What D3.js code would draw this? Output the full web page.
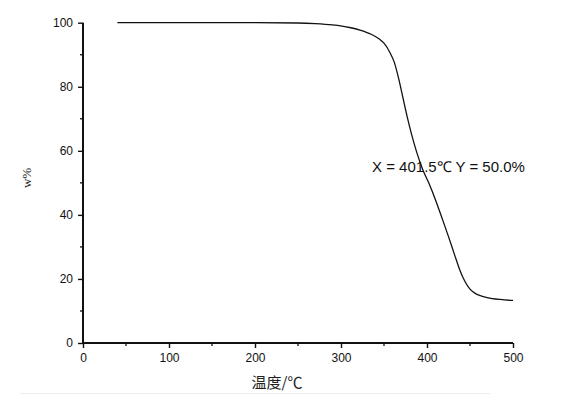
<!DOCTYPE html>
<html><head><meta charset="utf-8">
<script src="https://cdn.jsdelivr.net/npm/d3@7/dist/d3.min.js"></script>
<style>body{margin:0;background:#fff;}svg{display:block;}</style>
</head><body>
<script>
const temps = [40, 100, 200, 250, 270, 290, 310, 322, 335, 345, 350, 357, 362, 367, 372, 377, 382, 388, 395, 402, 410, 418, 425, 432, 438, 444, 450, 456, 462, 470, 485, 500];
const weights = [100, 100, 100, 99.9, 99.7, 99.3, 98.5, 97.7, 96.4, 94.8, 93.6, 90.6, 87.6, 82.6, 76.6, 70.6, 65.2, 59.6, 54.2, 50, 44.6, 38.6, 33.2, 27.6, 22.9, 19.3, 16.8, 15.5, 14.8, 14.2, 13.6, 13.3];
const xTicks = [0, 100, 200, 300, 400, 500];
const yTicks = [0, 20, 40, 60, 80, 100];
const xLabel = "温度/℃";
const yLabel = "w%";
const note = "X = 401.5℃ Y = 50.0%";

const W = 562, H = 400;
const svg = d3.select("body").append("svg").attr("width", W).attr("height", H);
const x = d3.scaleLinear().domain([0, 500]).range([83, 513]);
const y = d3.scaleLinear().domain([0, 100]).range([343, 22.7]);

// faint line at bottom
svg.append("line").attr("x1", 20).attr("x2", 490).attr("y1", 393.5).attr("y2", 393.5)
  .attr("stroke", "#ececec").attr("stroke-width", 1);

const fontNum = "Liberation Sans, Arial, sans-serif";

// X axis
const gx = svg.append("g").attr("transform", `translate(0,${y(0)})`);
gx.call(d3.axisBottom(x).tickValues(xTicks).tickSize(5).tickSizeOuter(0).tickPadding(5));
gx.append("g").selectAll("line").data(d3.range(50, 500, 100)).join("line")
  .attr("x1", d => x(d)).attr("x2", d => x(d)).attr("y1", 0).attr("y2", 3).attr("stroke", "#111").attr("stroke-width", 1.3);
// Y axis
const gy = svg.append("g").attr("transform", `translate(${x(0)},0)`);
gy.call(d3.axisLeft(y).tickValues(yTicks).tickSize(5).tickSizeOuter(0).tickPadding(5));
gy.append("g").selectAll("line").data(d3.range(10, 100, 20)).join("line")
  .attr("y1", d => y(d)).attr("y2", d => y(d)).attr("x1", 0).attr("x2", -3).attr("stroke", "#111").attr("stroke-width", 1.3);

[gx, gy].forEach(g => {
  g.select(".domain").attr("stroke", "#111").attr("stroke-width", 2);
  g.selectAll(".tick line").attr("stroke", "#111").attr("stroke-width", 1.4);
  g.selectAll(".tick text").attr("font-family", fontNum).attr("font-size", 12).attr("fill", "#111");
});
gx.select(".domain").attr("d", `M${x(0) - 1},0H${x(500)}`);
gy.select(".domain").attr("d", `M0,${y(0) + 1}V${y(100)}`);

// line
svg.append("path").datum(temps.map((t, i) => [t, weights[i]]))
  .attr("fill", "none").attr("stroke", "#111").attr("stroke-width", 1.3)
  .attr("d", d3.line().x(d => x(d[0])).y(d => y(d[1])).curve(d3.curveMonotoneX));

// annotation
svg.append("text").attr("x", 372).attr("y", 172).attr("font-family", fontNum).attr("font-size", 15)
  .attr("fill", "#111").text(note);

// axis titles
svg.append("text").attr("x", 277).attr("y", 388).attr("text-anchor", "middle")
  .attr("font-family", "Noto Sans CJK SC, serif").attr("font-size", 15).attr("fill", "#222").text(xLabel);
svg.append("text").attr("transform", "translate(31,178) rotate(-90)").attr("text-anchor", "middle")
  .attr("font-family", "Liberation Serif, serif").attr("font-size", 13).attr("fill", "#222").text(yLabel);
</script>
</body></html>
